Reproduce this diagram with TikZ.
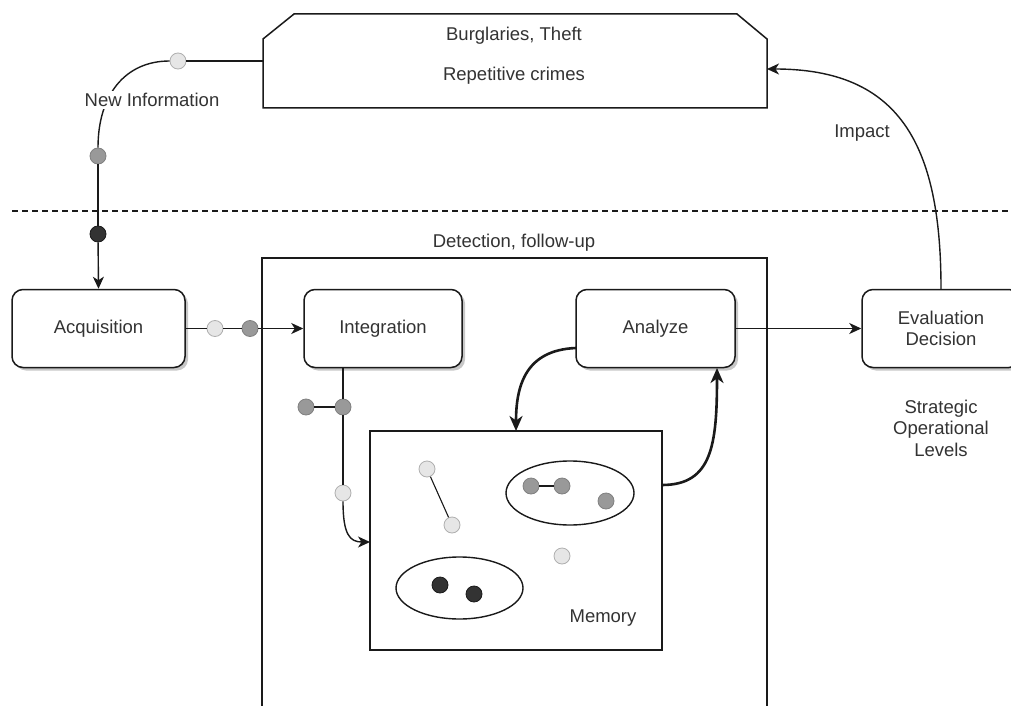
\documentclass[tikz,border=0pt]{standalone}
\usepackage{fontspec}
\setmainfont{Liberation Sans}
\usetikzlibrary{arrows.meta,shadows}
\definecolor{txt}{HTML}{333333}
\definecolor{ln}{HTML}{1A1A1A}
\definecolor{lightf}{HTML}{E6E6E6}
\definecolor{lightd}{HTML}{AFAFAF}
\definecolor{grayf}{HTML}{999999}
\definecolor{grayd}{HTML}{808080}
\definecolor{darkf}{HTML}{333333}
\definecolor{darkd}{HTML}{1A1A1A}
\tikzset{
  procbox/.style={draw=ln, line width=1.5pt, rounded corners=11pt, fill=white,
    minimum height=78pt, text=txt, align=center,
    drop shadow={shadow xshift=3pt, shadow yshift=-3pt, fill=black, opacity=0.22}},
  lbl/.style={text=txt, align=center, inner sep=1pt},
  dotb/.style={circle, minimum size=16pt, inner sep=0pt, line width=0.8pt},
  lightdot/.style={dotb, fill=lightf, draw=lightd},
  graydot/.style={dotb, fill=grayf, draw=grayd},
  darkdot/.style={dotb, fill=darkf, draw=darkd},
  conn/.style={draw=ln, line width=1.4pt},
  arr/.style={conn, -{Stealth[length=12pt, width=11pt, inset=3.5pt]}},
  thickarr/.style={draw=ln, line width=2.6pt, -{Stealth[length=15pt, width=13pt, inset=4.5pt]}},
  frame/.style={draw=ln, line width=1.5pt},
}
\begin{document}
\begin{tikzpicture}[x=1pt, y=-1pt, font=\fontsize{18.5}{22}\selectfont]
\useasboundingbox (0,0) rectangle (1011,706);
\clip (0,0) rectangle (1011,706);
\fill[white] (0,0) rectangle (1011,706);

% dashed separator
\coordinate (dashL) at (12,211);
\coordinate (dashR) at (1011,211);
\draw[draw=ln, line width=1.3pt, dash pattern=on 6pt off 4pt] (dashL) -- (dashR);

% top crime shape
\draw[frame, fill=white] (263,108) -- (263,39) -- (294,14) -- (737,14) -- (767,39) -- (767,108) -- cycle;
\node[lbl] (crime1) at (514,36) {Burglaries, Theft};
\node[lbl] (crime2) at (514,76) {Repetitive crimes};
\coordinate (crimeW) at (263,61);
\coordinate (crimeE) at (767,69);

% big detection frame
\draw[frame] (262,258) rectangle (767,740);
\node[lbl] (detect) at (514,243) {Detection, follow-up};

% process boxes
\node[procbox, minimum width=173pt] (acq) at (98.5,328.5) {Acquisition};
\node[procbox, minimum width=158pt] (integ) at (383,328.5) {Integration};
\node[procbox, minimum width=159pt] (analyze) at (655.5,328.5) {Analyze};
\node[procbox, minimum width=158pt] (eval) at (941,328.5) {Evaluation\\[-1pt]Decision};
\node[lbl, font=\fontsize{18.5}{21.5}\selectfont] (levels) at (941,428) {Strategic\\Operational\\Levels};

% new information path
\node[lightdot] (c1) at (178,61) {};
\node[graydot] (c2) at (98,156) {};
\node[darkdot] (c3) at (98,234) {};
\draw[conn] (crimeW) -- (c1);
\draw[conn] (c1.west) .. controls (125,61) and (98,95) .. (c2.north);
\node[lbl, fill=white, inner sep=2pt] (newinfo) at (152,100) {New Information};
\draw[conn] (c2) -- (c3);
\draw[arr] (c3) -- (acq.north);

% acquisition -> integration
\node[lightdot] (c4) at (215,328.5) {};
\node[graydot] (c5) at (250,328.5) {};
\draw[conn] (acq.east) -- (c4);
\draw[conn] (c4) -- (c5);
\draw[arr] (c5) -- (integ.west);

% memory box
\draw[frame] (370,431) rectangle (662,650);
\node[lbl] (memlbl) at (603,618) {Memory};
\coordinate (memTop) at (516,431);
\coordinate (memR) at (662,485);
\coordinate (memL) at (370,542);
\draw[conn] (570,493) ellipse [x radius=64pt, y radius=32pt];
\draw[conn] (459.5,588) ellipse [x radius=63.5pt, y radius=31pt];
\node[lightdot] (m1) at (427,469) {};
\node[lightdot] (m2) at (452,525) {};
\node[lightdot] (m3) at (562,556) {};
\node[graydot] (m4) at (531,486) {};
\node[graydot] (m5) at (562,486) {};
\node[graydot] (m6) at (606,501) {};
\node[darkdot] (m7) at (440,585) {};
\node[darkdot] (m8) at (474,594) {};
\draw[conn, line width=1.1pt] (m1) -- (m2);
\draw[conn] (m4) -- (m5);

% integration -> memory
\node[graydot] (c6) at (343,407) {};
\node[graydot] (c7) at (306,407) {};
\node[lightdot] (c8) at (343,493) {};
\draw[conn] (c6 |- integ.south) -- (c6);
\draw[conn] (c7) -- (c6);
\draw[conn] (c6) -- (c8);
\draw[arr] (c8.south) .. controls (343,535) and (350,542) .. (memL);

% analyze <-> memory
\coordinate (anaL) at (576,348);
\coordinate (anaB) at (717,368);
\draw[thickarr] (anaL) .. controls (526,350) and (516,385) .. (memTop);
\draw[thickarr] (memR) .. controls (712,485) and (717,445) .. (anaB);

% analyze -> evaluation
\draw[arr] (analyze.east) -- (eval.west);

% impact
\draw[arr] (eval.north) .. controls (941,145) and (900,69) .. (crimeE);
\node[lbl] (impact) at (862,133) {Impact};
\end{tikzpicture}
\end{document}
